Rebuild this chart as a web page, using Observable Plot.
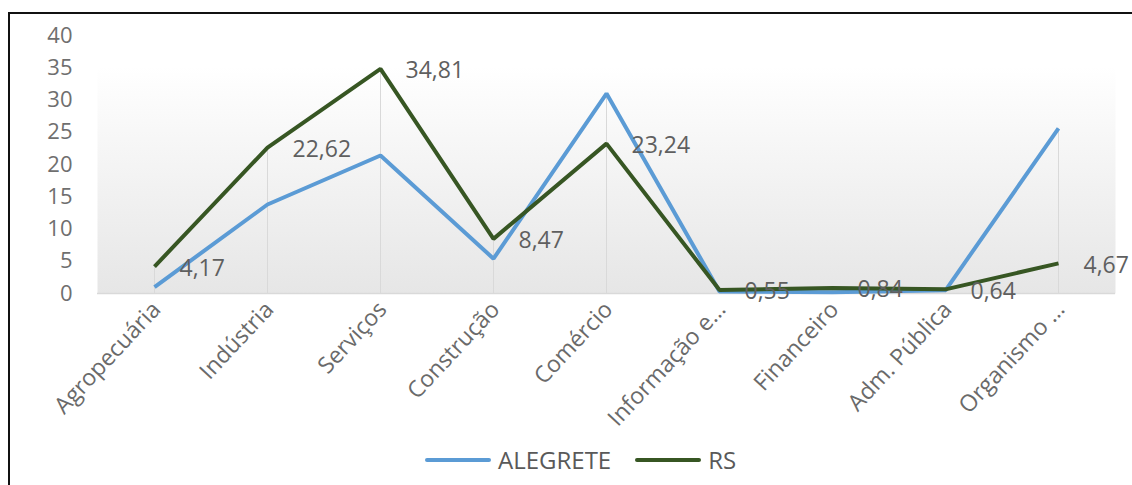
<!DOCTYPE html>
<html>
<head>
<meta charset="utf-8">
<script src="https://cdn.jsdelivr.net/npm/d3@7"></script>
<script src="https://cdn.jsdelivr.net/npm/@observablehq/plot@0.6"></script>
<style>
  html, body { margin: 0; padding: 0; background: #fff; overflow: hidden; width: 1132px; height: 485px; }
  body { position: relative; font-family: "Open Sans", "DejaVu Sans", sans-serif; }
  #frame { position: absolute; left: 8px; top: 12px; width: 1300px; height: 600px; border-left: 2px solid #111; border-top: 2px solid #111; box-sizing: border-box; }
  #chart { position: absolute; left: 0; top: 0; }
  #legend { position: absolute; left: 425px; top: 443px; display: flex; align-items: center; color: #595959; font-size: 24px; font-family: "Open Sans", sans-serif; }
  .sw { display: inline-block; width: 66px; height: 4px; border-radius: 2px; margin-right: 7px; }
  .item { display: flex; align-items: center; margin-right: 24px; }
</style>
</head>
<body>
<div id="frame"></div>
<div id="chart"></div>
<div id="legend"></div>
<script>
const categories = ["Agropecuária", "Indústria", "Serviços", "Construção", "Comércio", "Informação e…", "Financeiro", "Adm. Pública", "Organismo …"];
const alegrete = [1.0, 13.8, 21.4, 5.4, 31.0, 0.3, 0.2, 0.5, 25.6];
const rs = [4.17, 22.62, 34.81, 8.47, 23.24, 0.55, 0.84, 0.64, 4.67];
const seriesNames = ["ALEGRETE", "RS"];
const seriesColors = ["#5b9bd5", "#375623"];
const yTicks = [0, 5, 10, 15, 20, 25, 30, 35, 40];

const rows = [];
categories.forEach((c, i) => {
  rows.push({cat: c, serie: "ALEGRETE", v: alegrete[i]});
  rows.push({cat: c, serie: "RS", v: rs[i]});
});
const drops = categories.map((c, i) => ({cat: c, top: Math.max(alegrete[i], rs[i])}));
const rsRows = rows.filter(d => d.serie === "RS");
const fmt = v => v.toFixed(2).replace(".", ",");

const plot = Plot.plot({
  width: 1132,
  height: 440,
  marginLeft: 97,
  marginRight: 17,
  marginTop: 35,
  marginBottom: 147,
  style: {fontFamily: "'Open Sans', sans-serif", background: "transparent"},
  x: {type: "point", domain: categories, padding: 0.5},
  y: {domain: [0, 40]},
  color: {domain: seriesNames, range: seriesColors},
  marks: [
    Plot.frame({fill: "url(#bgGrad)", stroke: "none"}),
    Plot.ruleX(drops, {x: "cat", y1: 0, y2: "top", stroke: "#d9d9d9", strokeWidth: 1}),
    Plot.ruleY([0], {stroke: "#d9d9d9", strokeWidth: 1.5}),
    Plot.axisY({ticks: yTicks, tickSize: 0, tickPadding: 25, fontSize: 22, color: "#6f6f6f", label: null}),
    Plot.axisX({tickRotate: -47, tickSize: 0, tickPadding: 12, dx: 2, fontSize: 23, color: "#6a6a6a", label: null}),
    Plot.line(rows, {x: "cat", y: "v", z: "serie", stroke: "serie", strokeWidth: 4, strokeLinejoin: "miter", strokeLinecap: "butt"}),
    Plot.text(rsRows, {x: "cat", y: "v", text: d => fmt(d.v), textAnchor: "start", dx: 25, dy: 2, fill: "#5f5f5f", fontSize: 23})
  ]
});

const defs = document.createElementNS("http://www.w3.org/2000/svg", "defs");
defs.innerHTML = '<linearGradient id="bgGrad" x1="0" y1="0" x2="0" y2="1">' +
  '<stop offset="0" stop-color="#ffffff"/>' +
  '<stop offset="0.12" stop-color="#ffffff"/>' +
  '<stop offset="1" stop-color="#e6e6e6"/>' +
  '</linearGradient>';
plot.insertBefore(defs, plot.firstChild);
document.getElementById("chart").appendChild(plot);

const legend = document.getElementById("legend");
seriesNames.forEach((n, i) => {
  const item = document.createElement("div");
  item.className = "item";
  item.innerHTML = `<span class="sw" style="background:${seriesColors[i]}"></span><span>${n}</span>`;
  legend.appendChild(item);
});
</script>
</body>
</html>
